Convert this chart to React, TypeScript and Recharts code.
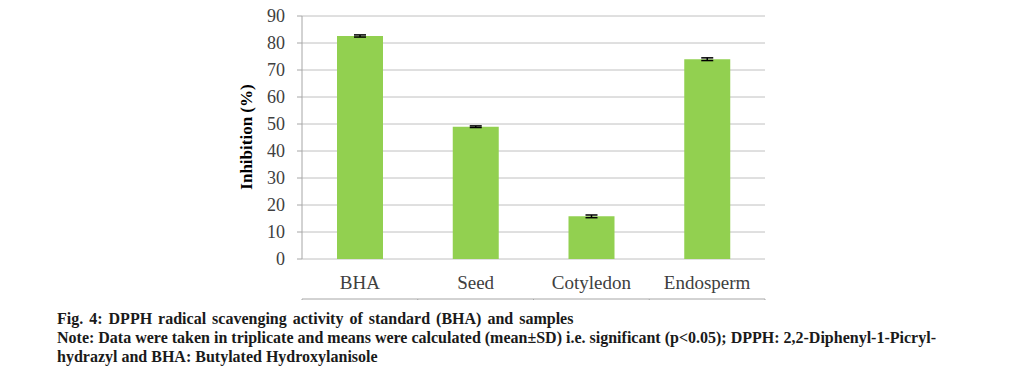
import { Bar, BarChart, CartesianGrid, ErrorBar, XAxis, YAxis } from "recharts";

const categories = ["BHA", "Seed", "Cotyledon", "Endosperm"];
const inhibition = [82.6, 49.0, 15.8, 74.0];
const sd = [0.4, 0.3, 0.5, 0.5];
const yTicks = [0, 10, 20, 30, 40, 50, 60, 70, 80, 90];
const boundaryTicks = [0, 1, 2, 3, 4];

const chartData = categories.map((name, i) => ({
	name,
	value: inhibition[i],
	err: sd[i],
	pos: i + 0.5,
}));

const serif = "'Liberation Serif', 'Times New Roman', serif";

function YLabel() {
	return (
		<text
			x={246}
			y={137}
			transform="rotate(-90, 246, 137)"
			textAnchor="middle"
			dominantBaseline="central"
			fontFamily={serif}
			fontWeight="bold"
			fontSize={17}
			fill="#000"
		>
			Inhibition (%)
		</text>
	);
}

export default function App() {
	return (
		<div style={{ position: "absolute", left: 0, top: 0, width: 1019, height: 378, background: "#fff" }}>
			<BarChart
				width={1019}
				height={300}
				data={chartData}
				margin={{ top: 16, right: 254, left: 0, bottom: 0 }}
			>
				<CartesianGrid vertical={false} stroke="#c0c0c0" xAxisId="cat" />
				<XAxis
					xAxisId="grid"
					type="number"
					dataKey="pos"
					domain={[0, 4]}
					ticks={boundaryTicks}
					height={1}
					stroke="#a6a6a6"
					tickSize={5}
					tickFormatter={() => ""}
				/>
				<XAxis
					xAxisId="cat"
					dataKey="name"
					height={40}
					axisLine={false}
					tickLine={false}
					tickMargin={11}
					tick={{ fontFamily: serif, fontSize: 19, fill: "#404040" }}
				/>
				<YAxis
					width={302}
					domain={[0, 90]}
					ticks={yTicks}
					stroke="#a6a6a6"
					tickSize={5}
					tickMargin={12}
					tick={{ fontFamily: serif, fontSize: 18, fill: "#404040" }}
					label={{ content: () => <YLabel /> }}
				/>
				<Bar xAxisId="cat" dataKey="value" fill="#92d050" barSize={46} isAnimationActive={false}>
					<ErrorBar dataKey="err" width={6} stroke="#000" strokeWidth={1.5} />
				</Bar>
			</BarChart>
			<div
				style={{
					position: "absolute",
					left: 57,
					top: 309,
					fontFamily: serif,
					fontWeight: "bold",
					fontSize: 16,
					lineHeight: "19px",
					color: "#1a1a1a",
					width: 960,
					whiteSpace: "nowrap",
				}}
			>
				<div style={{ wordSpacing: 2 }}>Fig. 4: DPPH radical scavenging activity of standard (BHA) and samples</div>
				<div>
					Note: Data were taken in triplicate and means were calculated (mean±SD) i.e. significant (p&lt;0.05); DPPH:
					2,2-Diphenyl-1-Picryl-
				</div>
				<div>hydrazyl and BHA: Butylated Hydroxylanisole</div>
			</div>
		</div>
	);
}
